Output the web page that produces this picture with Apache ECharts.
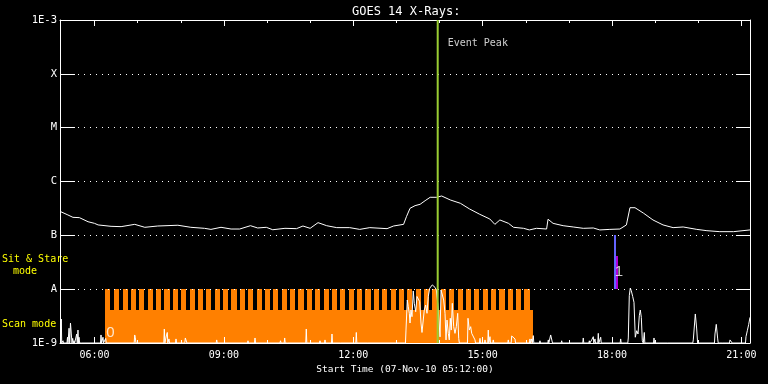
<!DOCTYPE html>
<html><head><meta charset="utf-8">
<script src="https://cdn.jsdelivr.net/npm/echarts@6/dist/echarts.min.js"></script>
<style>html,body{margin:0;padding:0;background:#000;}#c{width:768px;height:384px;}</style>
</head><body><div id="c"></div>
<script>
// ---- text ----
const chartTitle = 'GOES 14 X-Rays:';
const xAxisTitle = 'Start Time (07-Nov-10 05:12:00)';
const modeLabels = ['Sit & Stare', 'mode', 'Scan mode'];
const eventLabel = 'Event Peak';

// ---- axes ----
const timeStart = '05:12';
const timeEnd = '21:12';
const majorTicks = ['06:00', '09:00', '12:00', '15:00', '18:00', '21:00'];
const minorTicks = ['06:00','07:00','08:00','09:00','10:00','11:00','12:00','13:00','14:00','15:00','16:00','17:00','18:00','19:00','20:00','21:00'];
const yMin = 1e-9, yMax = 1e-3;
const yTickLabels = ['1E-9', 'A', 'B', 'C', 'M', 'X', '1E-3'];

// ---- GOES long channel flux (W/m^2) ----
const fluxTimes = ['05:13','05:23','05:30','05:39','05:51','06:00','06:05','06:23','06:37','06:56','07:10','07:28','07:56','08:14','08:33','08:42','08:56','09:10','09:22','09:37','09:47','09:59','10:08','10:25','10:41','10:50','11:00','11:11','11:23','11:37','11:55','12:09','12:23','12:47','12:56','13:10','13:14','13:19','13:26','13:33','13:40','13:47','13:56','14:03','14:15','14:29','14:42','14:56','15:10','15:17','15:24','15:36','15:43','15:57','16:05','16:15','16:29','16:31','16:38','16:52','17:06','17:20','17:34','17:43','17:57','18:11','18:20','18:25','18:32','18:44','18:57','19:11','19:25','19:39','19:58','20:12','20:30','20:49','21:12'];
const fluxValues = [2.75e-7,2.39e-7,2.16e-7,2.13e-7,1.79e-7,1.67e-7,1.56e-7,1.47e-7,1.45e-7,1.60e-7,1.41e-7,1.49e-7,1.54e-7,1.41e-7,1.35e-7,1.29e-7,1.41e-7,1.31e-7,1.31e-7,1.51e-7,1.37e-7,1.41e-7,1.27e-7,1.35e-7,1.33e-7,1.49e-7,1.35e-7,1.72e-7,1.51e-7,1.39e-7,1.39e-7,1.29e-7,1.39e-7,1.33e-7,1.49e-7,1.60e-7,2.22e-7,3.18e-7,3.56e-7,3.77e-7,4.40e-7,5.09e-7,5.09e-7,5.38e-7,4.54e-7,3.94e-7,3.08e-7,2.46e-7,2.01e-7,1.60e-7,1.93e-7,1.67e-7,1.41e-7,1.35e-7,1.26e-7,1.35e-7,1.31e-7,1.99e-7,1.67e-7,1.51e-7,1.43e-7,1.35e-7,1.37e-7,1.26e-7,1.29e-7,1.31e-7,1.56e-7,3.26e-7,3.26e-7,2.57e-7,1.93e-7,1.56e-7,1.39e-7,1.43e-7,1.29e-7,1.22e-7,1.17e-7,1.17e-7,1.26e-7];

// ---- short channel (near floor), [UT hours, flux] ----
const shortChannel = [
[5.215,1e-9],[5.230,2.79e-9],[5.240,1e-9],[5.262,1e-9],[5.270,1.10e-9],[5.280,1e-9],[5.362,1e-9],[5.374,1.28e-9],[5.386,1e-9],[5.398,1e-9],[5.410,1.88e-9],[5.425,1e-9],[5.432,1e-9],[5.443,2.35e-9],[5.462,1.47e-9],[5.478,1e-9],[5.494,1.22e-9],[5.508,1e-9],[5.525,1.10e-9],[5.540,1e-9],[5.575,1e-9],[5.587,1.47e-9],[5.600,1e-9],[5.617,1.74e-9],[5.630,1e-9],[5.641,1.28e-9],[5.655,1e-9],[5.705,1e-9],[5.717,1.08e-9],[5.730,1e-9],
[6.139,1e-9],[6.151,1.41e-9],[6.165,1e-9],[6.185,1e-9],[6.197,1.28e-9],[6.210,1e-9],[6.248,1e-9],[6.260,1.22e-9],[6.272,1e-9],
[6.920,1e-9],[6.932,1.41e-9],[6.946,1.28e-9],[6.960,1e-9],
[7.607,1e-9],[7.619,1.82e-9],[7.632,1e-9],[7.652,1e-9],[7.665,1.35e-9],[7.688,1.57e-9],[7.700,1e-9],[7.715,1e-9],[7.727,1.19e-9],[7.740,1e-9],[7.878,1e-9],[7.890,1.19e-9],[7.903,1e-9],
[8.094,1e-9],[8.106,1.24e-9],[8.129,1.14e-9],[8.142,1e-9],[8.822,1e-9],[8.834,1.14e-9],[8.847,1e-9],
[9.547,1e-9],[9.559,1.10e-9],[9.572,1e-9],[9.710,1e-9],[9.722,1.24e-9],[9.735,1e-9],
[10.301,1e-9],[10.313,1.10e-9],[10.326,1e-9],[10.398,1e-9],[10.410,1.24e-9],[10.422,1e-9],[10.475,1e-9],[10.487,1.08e-9],[10.500,1e-9],
[10.899,1e-9],[10.911,1.82e-9],[10.923,1e-9],
[11.217,1e-9],[11.229,1.10e-9],[11.241,1e-9],[11.333,1e-9],[11.345,1.14e-9],[11.357,1e-9],[11.495,1e-9],[11.507,1.47e-9],[11.519,1e-9],[11.704,1e-9],[11.716,1.08e-9],[11.730,1e-9],
[12.059,1e-9],[12.071,1.57e-9],[12.083,1e-9],[12.323,1e-9],[12.335,1.08e-9],[12.347,1e-9],
[13.211,1e-9],[13.223,1.74e-9],[13.253,6.29e-9],[13.276,4.72e-9],[13.300,3.56e-9],[13.316,2.35e-9],[13.339,4.10e-9],[13.362,3.08e-9],[13.392,9.25e-9],[13.415,5.46e-9],[13.448,3.81e-9],[13.478,7.31e-9],[13.508,6.76e-9],[13.541,5.85e-9],[13.571,2.35e-9],[13.594,1.57e-9],[13.624,1.62e-9],[13.647,4.10e-9],[13.680,5.08e-9],[13.710,3.56e-9],[13.740,7.31e-9],[13.773,1.04e-8],[13.803,1.11e-8],[13.833,1.20e-8],[13.865,1.25e-8],[13.896,1.08e-8],[13.926,9.65e-9],[13.965,5.00e-9],[14.012,1.30e-9],[14.035,9.65e-9],[14.065,8.97e-9],[14.097,6.29e-9],[14.128,3.56e-9],[14.151,1.14e-9],[14.174,2.67e-9],[14.204,1.51e-9],[14.227,1.14e-9],[14.250,2.88e-9],[14.273,1.74e-9],[14.297,5.46e-9],[14.329,2.01e-9],[14.359,1.51e-9],[14.390,2.01e-9],[14.422,3.56e-9],[14.445,1.22e-9],[14.460,1e-9],
[14.649,1e-9],[14.661,2.88e-9],[14.691,1.74e-9],[14.723,2.01e-9],[14.747,1.51e-9],[14.784,1.62e-9],[14.823,1.14e-9],[14.835,1e-9],[14.927,1e-9],[14.939,1.22e-9],[14.951,1e-9],
[15.043,1e-9],[15.055,1.14e-9],[15.067,1e-9],[15.119,1e-9],[15.131,1.74e-9],[15.143,1e-9],[15.160,1e-9],[15.171,1.31e-9],[15.183,1e-9],[15.235,1e-9],[15.247,1.14e-9],[15.260,1e-9],[15.275,1e-9],[15.287,1.05e-9],[15.300,1e-9],
[15.583,1e-9],[15.595,1.14e-9],[15.607,1e-9],[15.662,1e-9],[15.674,1.35e-9],[15.711,1.41e-9],[15.751,1.19e-9],[15.763,1e-9],
[16.086,1e-9],[16.098,1.19e-9],[16.110,1e-9],[16.126,1e-9],[16.138,1.19e-9],[16.150,1e-9],[16.163,1e-9],[16.175,1.37e-9],[16.187,1e-9],
[16.318,1e-9],[16.330,1.10e-9],[16.342,1e-9],[16.511,1e-9],[16.523,1.14e-9],[16.535,1e-9],[16.566,1e-9],[16.578,1.41e-9],[16.608,1.31e-9],[16.620,1e-9],[16.821,1e-9],[16.833,1.10e-9],[16.845,1e-9],
[17.322,1e-9],[17.334,1.24e-9],[17.346,1e-9],[17.462,1e-9],[17.474,1.10e-9],[17.486,1e-9],[17.517,1e-9],[17.529,1.14e-9],[17.566,1.31e-9],[17.578,1e-9],[17.594,1e-9],[17.606,1.19e-9],[17.618,1e-9],[17.670,1e-9],[17.682,1.51e-9],[17.694,1e-9],[17.726,1e-9],[17.738,1.28e-9],[17.750,1e-9],
[18.189,1e-9],[18.201,1.19e-9],[18.213,1e-9],[18.366,1e-9],[18.378,1.24e-9],[18.401,7.56e-9],[18.424,1.05e-8],[18.447,9.37e-9],[18.480,7.31e-9],[18.510,5.70e-9],[18.540,1.28e-9],[18.573,1.69e-9],[18.603,1.47e-9],[18.633,3.21e-9],[18.656,4.10e-9],[18.680,3.00e-9],[18.703,1.10e-9],[18.725,1e-9],[18.737,1e-9],[18.749,1.57e-9],[18.761,1e-9],
[18.962,1e-9],[18.974,1.24e-9],[18.986,1e-9],[19.293,1e-9],[19.305,1.08e-9],[19.317,1e-9],
[19.873,1e-9],[19.885,1.14e-9],[19.932,3.46e-9],[19.964,1.82e-9],[19.985,1e-9],
[20.376,1e-9],[20.388,1.47e-9],[20.418,2.22e-9],[20.451,1.19e-9],[20.463,1e-9],[20.555,1e-9],[20.567,1.08e-9],[20.579,1e-9],[20.724,1e-9],[20.736,1.14e-9],[20.775,1.19e-9],[20.787,1e-9],
[21.095,1e-9],[21.107,1.31e-9],[21.138,1.69e-9],[21.170,2.22e-9],[21.200,3.00e-9]
];

// ---- observing modes ----
const scanBlock = ['06:14', '16:10'];
const scanBlockLevels = [1e-9, 4.1e-9];
const scanToothStarts = [6.243,6.457,6.651,6.845,7.039,7.233,7.428,7.622,7.816,8.010,8.204,8.398,8.593,8.787,8.981,9.175,9.369,9.563,9.758,9.952,10.146,10.340,10.534,10.728,10.923,11.117,11.311,11.505,11.699,11.893,12.088,12.282,12.476,12.670,12.864,13.058,13.253,13.447,13.641,13.835,14.029,14.223,14.418,14.612,14.806,15.000,15.194,15.388,15.583,15.777,15.971];
const scanToothHours = 0.12;
const scanToothLevels = [4.1e-9, 1e-8];
const sitStareBars = [
  {from: 18.046, to: 18.093, low: 1e-8, high: 1e-7, color: '#6464ff'},
  {from: 18.093, to: 18.139, low: 1e-8, high: 4.1e-8, color: '#b000d8'}
];
const modeCountLabels = [{t: 6.371, v: 1.55e-9, text: '0'}, {t: 18.160, v: 2.08e-8, text: '1'}];
const eventPeakTime = '13:57:30';
const eventLabelLevel = 3.7e-4;

// ---- helpers ----
const parseT = s => { const p = s.split(':').map(Number); return p[0] + p[1] / 60 + (p[2] || 0) / 3600; };
const FONT = 'DejaVu Sans Mono';
const WHITE = '#ffffff';

const rectItem = (params, api) => {
  const p0 = api.coord([api.value(0), api.value(2)]);
  const p1 = api.coord([api.value(1), api.value(3)]);
  const x0 = Math.round(p0[0]), x1 = Math.round(p1[0]);
  const y0 = Math.round(p0[1]), y1 = Math.round(p1[1]);
  return {type: 'rect', shape: {x: x0, y: y1, width: x1 - x0, height: y0 - y1}, style: {fill: api.visual('color')}};
};

const scanData = [[parseT(scanBlock[0]), parseT(scanBlock[1]), scanBlockLevels[0], scanBlockLevels[1]]]
  .concat(scanToothStarts.map(t => [t, t + scanToothHours, scanToothLevels[0], scanToothLevels[1]]));
const sitData = sitStareBars.map(b => ({value: [b.from, b.to, b.low, b.high], itemStyle: {color: b.color}}));

const majorVals = majorTicks.map(parseT);
const minorVals = minorTicks.map(parseT);
const xMin = parseT(timeStart), xMax = parseT(timeEnd);
const xBase = {type: 'value', min: xMin, max: xMax, splitLine: {show: false}, z: 5,
  axisLine: {show: true, onZero: false, lineStyle: {color: WHITE, width: 1}}};
const tickStyle = {color: WHITE, width: 1};

const eventT = parseT(eventPeakTime);

const chart = echarts.init(document.getElementById('c'), null, {renderer: 'canvas'});
chart.setOption({
  backgroundColor: '#000000',
  animation: false,
  title: {text: chartTitle, left: 347, top: 1, textStyle: {color: WHITE, fontFamily: FONT, fontSize: 12, fontWeight: 'normal'}},
  grid: {left: 60, right: 18, top: 20, bottom: 41},
  xAxis: [
    Object.assign({}, xBase, {position: 'bottom',
      axisTick: {show: true, inside: true, length: 6, customValues: majorVals, lineStyle: tickStyle},
      axisLabel: {show: true, customValues: majorVals, margin: 7, color: WHITE, fontFamily: FONT, fontSize: 10,
        formatter: v => majorTicks[majorVals.findIndex(m => Math.abs(m - v) < 1e-6)] || ''},
      name: xAxisTitle, nameLocation: 'middle', nameGap: 19,
      nameTextStyle: {color: WHITE, fontFamily: FONT, fontSize: 9.5}}),
    Object.assign({}, xBase, {position: 'bottom', axisLine: {show: false},
      axisTick: {show: true, inside: true, length: 3, customValues: minorVals, lineStyle: tickStyle}, axisLabel: {show: false}}),
    Object.assign({}, xBase, {position: 'top',
      axisTick: {show: true, inside: true, length: 6, customValues: majorVals, lineStyle: tickStyle}, axisLabel: {show: false}}),
    Object.assign({}, xBase, {position: 'top', axisLine: {show: false},
      axisTick: {show: true, inside: true, length: 3, customValues: minorVals, lineStyle: tickStyle}, axisLabel: {show: false}})
  ],
  yAxis: [
    {type: 'log', logBase: 10, min: yMin, max: yMax, splitNumber: 6, position: 'left', z: 5,
      axisLine: {show: true, onZero: false, lineStyle: {color: WHITE, width: 1}},
      axisTick: {show: true, inside: true, length: 15, lineStyle: tickStyle},
      axisLabel: {show: true, margin: 3, color: WHITE, fontFamily: FONT, fontSize: 10.5,
        formatter: v => yTickLabels[Math.round(Math.log10(v)) + 9] || ''},
      splitLine: {show: true, lineStyle: {color: WHITE, width: 1, type: [1, 5]}}},
    {type: 'log', logBase: 10, min: yMin, max: yMax, splitNumber: 6, position: 'right', z: 5,
      axisLine: {show: true, onZero: false, lineStyle: {color: WHITE, width: 1}},
      axisTick: {show: true, inside: true, length: 14, lineStyle: tickStyle},
      axisLabel: {show: false}, splitLine: {show: false}}
  ],
  graphic: [
    {type: 'text', x: 2, y: 259, style: {text: modeLabels[0], fill: '#ffff00', font: '10px "DejaVu Sans Mono"', verticalAlign: 'middle'}},
    {type: 'text', x: 13, y: 271.5, style: {text: modeLabels[1], fill: '#ffff00', font: '10px "DejaVu Sans Mono"', verticalAlign: 'middle'}},
    {type: 'text', x: 2, y: 324, style: {text: modeLabels[2], fill: '#ffff00', font: '10px "DejaVu Sans Mono"', verticalAlign: 'middle'}}
  ],
  series: [
    {type: 'custom', name: 'scan', xAxisIndex: 0, yAxisIndex: 0, z: 1, renderItem: rectItem,
      itemStyle: {color: '#ff8000'}, encode: {x: [0, 1], y: [2, 3]}, data: scanData},
    {type: 'custom', name: 'sitstare', xAxisIndex: 0, yAxisIndex: 0, z: 2, renderItem: rectItem,
      encode: {x: [0, 1], y: [2, 3]}, data: sitData},
    {type: 'line', name: 'short', xAxisIndex: 0, yAxisIndex: 0, z: 6, symbol: 'none', showSymbol: false,
      lineStyle: {color: WHITE, width: 1}, data: shortChannel},
    {type: 'line', name: 'long', xAxisIndex: 0, yAxisIndex: 0, z: 6, symbol: 'none', showSymbol: false,
      lineStyle: {color: WHITE, width: 1}, data: fluxTimes.map((t, i) => [parseT(t), fluxValues[i]])},
    {type: 'line', name: 'peak', xAxisIndex: 0, yAxisIndex: 0, z: 7, symbol: 'none', showSymbol: false,
      lineStyle: {color: '#9acd32', width: 2}, data: [[eventT, yMin], [eventT, yMax]]},
    {type: 'scatter', name: 'labels', xAxisIndex: 0, yAxisIndex: 0, z: 8, symbolSize: 0,
      itemStyle: {color: 'rgba(0,0,0,0)'},
      data: [
        {value: [eventT, eventLabelLevel], label: {show: true, position: 'right', distance: 10, formatter: eventLabel,
          color: WHITE, fontFamily: FONT, fontSize: 10}}
      ].concat(modeCountLabels.map(m => ({value: [m.t, m.v], label: {show: true, position: 'inside', formatter: m.text,
          color: WHITE, fontFamily: 'Liberation Sans', fontSize: 15}})))}
  ]
});
</script></body></html>
